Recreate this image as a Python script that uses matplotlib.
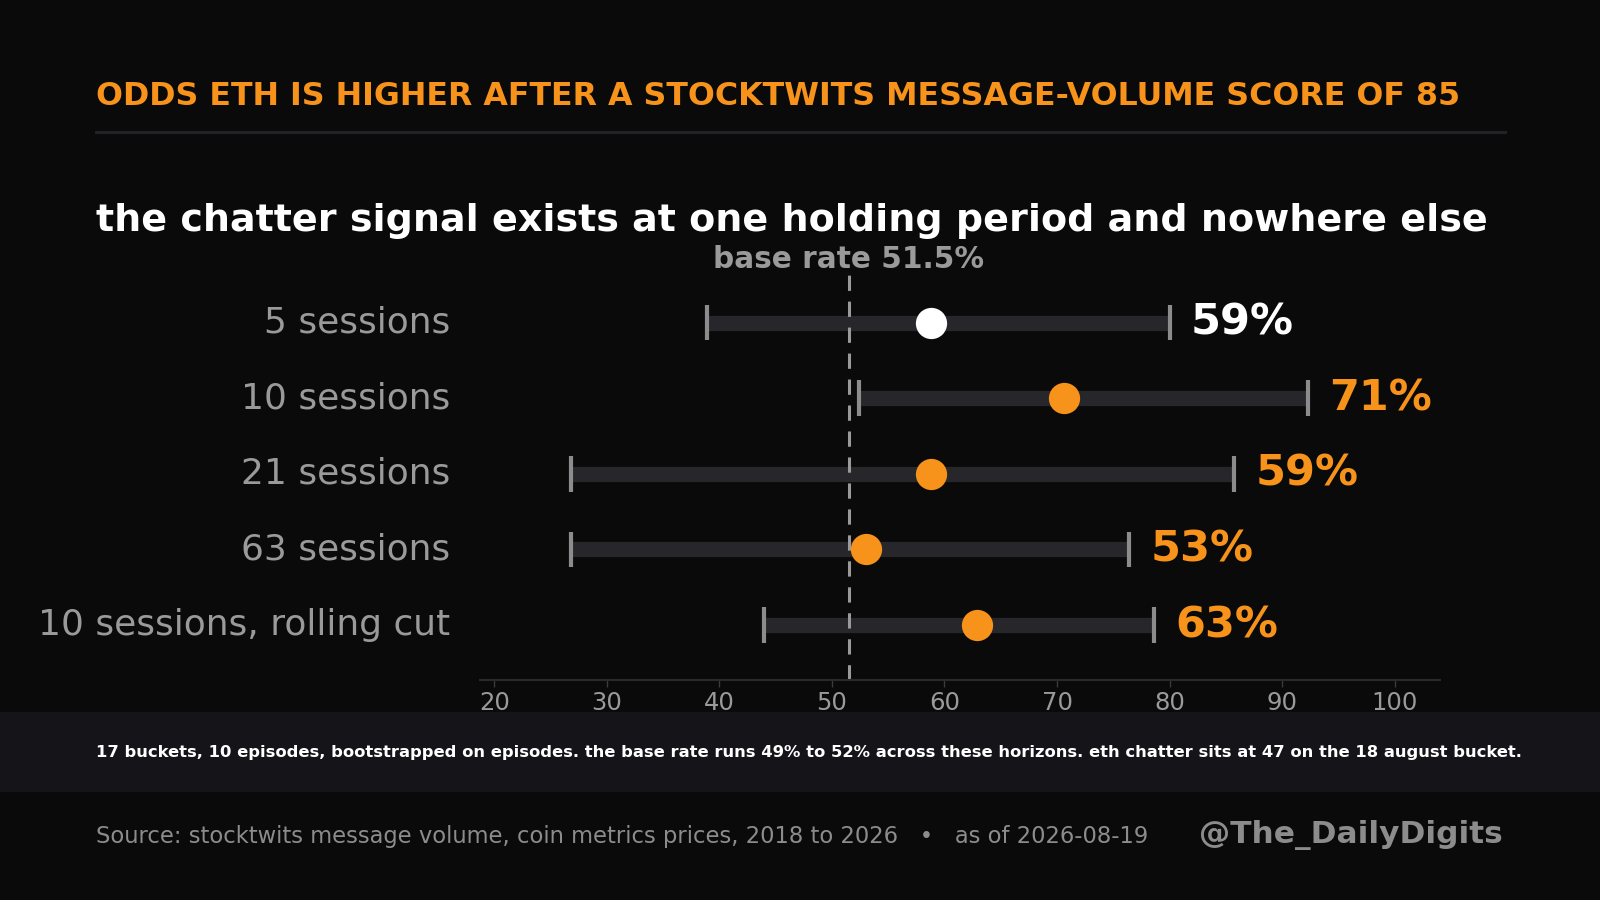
import matplotlib
matplotlib.use("Agg")
import matplotlib.pyplot as plt
from matplotlib.patches import Rectangle

# data
labels = ["5 sessions", "10 sessions", "21 sessions", "63 sessions", "10 sessions, rolling cut"]
point = [58.8, 70.6, 58.8, 53.0, 62.9]
low = [38.9, 52.4, 26.8, 26.8, 44.0]
high = [80.0, 92.3, 85.7, 76.4, 78.6]
value_text = ["59%", "71%", "59%", "53%", "63%"]
base_rate = 51.5
ticks = [20, 30, 40, 50, 60, 70, 80, 90, 100]

BG = "#0a0a0a"
ORANGE = "#f7931a"
GRAY = "#9a9a9a"
BAR = "#26262b"

W, H = 1568, 882   # reference pixel grid, used only for placement
def fx(px):
    return px / W
def fy(py):
    return 1 - py / H

fig = plt.figure(figsize=(16, 9), dpi=100, facecolor=BG)

# title + rule + subtitle
fig.text(fx(94), fy(103), "ODDS ETH IS HIGHER AFTER A STOCKTWITS MESSAGE-VOLUME SCORE OF 85",
         color=ORANGE, fontsize=22.8, fontweight="bold", va="baseline", ha="left")
fig.add_artist(plt.Line2D([fx(94), fx(1475)], [fy(129), fy(129)], color="#222226", lw=2.2))
fig.text(fx(94), fy(226), "the chatter signal exists at one holding period and nowhere else",
         color="white", fontsize=27.4, fontweight="bold", va="baseline", ha="left")

ax = fig.add_axes([fx(470), fy(666), fx(1411) - fx(470), fy(262) - fy(666)])
ax.set_facecolor(BG)
ax.set_xlim(18.7, 104.0)
ax.set_ylim(4.72, -0.73)

ys = list(range(len(labels)))
ax.axvline(base_rate, color=GRAY, lw=2.2, dashes=(5, 3.5), zorder=2)

for i in ys:
    ax.hlines(i, low[i], high[i], color=BAR, lw=11, zorder=1)
    ax.vlines([low[i], high[i]], i - 0.235, i + 0.235, color="#8c8c8c", lw=3, zorder=3)
    c = "white" if i == 0 else ORANGE
    ax.plot(point[i], i, "o", ms=22.5, color=c, mec="none", zorder=4)
    ax.text(high[i] + 1.9, i, value_text[i], color=c, fontsize=31, fontweight="bold",
            va="center", ha="left")
    ax.text(-0.031, i, labels[i], transform=ax.get_yaxis_transform(), color=GRAY,
            fontsize=25.9, va="center", ha="right")

ax.text(base_rate, -0.64, "base rate 51.5%", color=GRAY, fontsize=21.3, fontweight="bold",
        ha="center", va="bottom")

ax.set_yticks([])
ax.set_xticks(ticks)
ax.set_xticklabels([str(t) for t in ticks])
ax.tick_params(axis="x", colors="#3a3a3a", labelcolor=GRAY, labelsize=17.5, length=5, width=1, pad=3)
for s in ["top", "left", "right"]:
    ax.spines[s].set_visible(False)
ax.spines["bottom"].set_color("#2a2a2e")
ax.spines["bottom"].set_linewidth(1.5)

# note band
fig.add_artist(Rectangle((0, fy(776)), 1, fy(698) - fy(776), transform=fig.transFigure,
                         facecolor="#141419", edgecolor="none", zorder=0))
fig.text(fx(94), fy(737), "17 buckets, 10 episodes, bootstrapped on episodes. the base rate runs 49% to 52% "
         "across these horizons. eth chatter sits at 47 on the 18 august bucket.",
         color="white", fontsize=11.8, fontweight="bold", va="center", ha="left")

# footer
fig.text(fx(94), fy(820), "Source: stocktwits message volume, coin metrics prices, 2018 to 2026   \u2022   as of 2026-08-19",
         color="#8c8c8c", fontsize=16.3, va="center", ha="left")
fig.text(fx(1473), fy(818), "@The_DailyDigits", color="#8c8c8c", fontsize=22.5, fontweight="bold",
         va="center", ha="right")

fig.savefig("out.png", dpi=100, facecolor=BG)
